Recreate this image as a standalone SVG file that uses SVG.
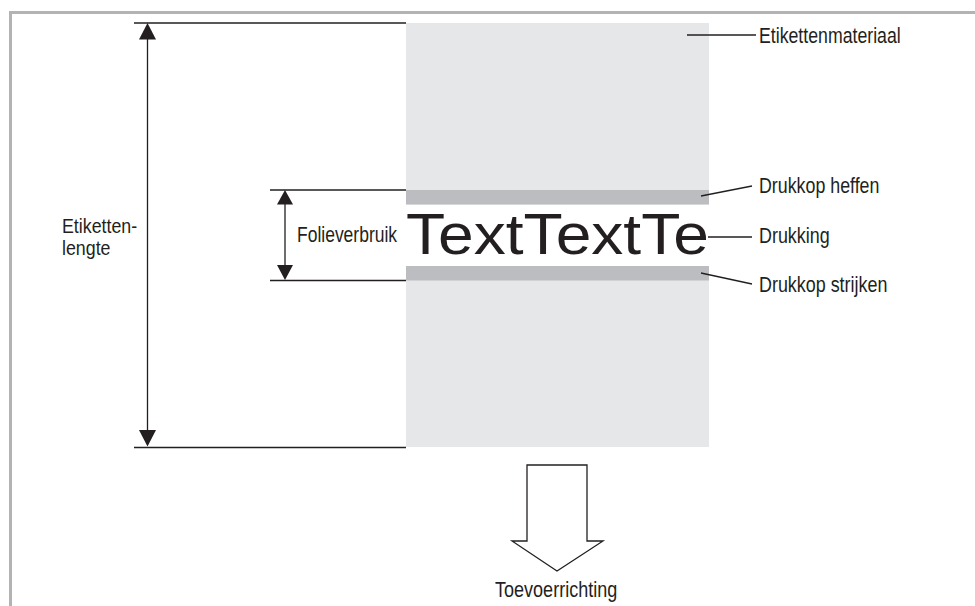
<svg xmlns="http://www.w3.org/2000/svg" width="975" height="606" viewBox="0 0 975 606">
  <style>
    .ln { stroke: #231f20; stroke-width: 1.3; fill: none; }
    .lbl { font-family: "Liberation Sans", Arial, sans-serif; font-size: 22px; fill: #231f20; }
    .lbl2 { font-family: "Liberation Sans", Arial, sans-serif; font-size: 20px; fill: #231f20; }
    .head { fill: #231f20; stroke: none; }
  </style>
  <rect x="0" y="0" width="975" height="606" fill="#ffffff"/>
  <!-- page frame -->
  <path d="M10.5 606 V12.5 H975" fill="none" stroke="#b3b3b3" stroke-width="3"/>

  <!-- label material strip -->
  <g id="material">
    <rect x="406" y="23" width="303" height="424" fill="#e6e7e9"/>
    <rect x="406" y="204.5" width="303" height="61.5" fill="#ffffff"/>
    <rect x="406" y="190" width="303" height="14.5" fill="#bcbdc0"/>
    <rect x="406" y="266" width="303" height="14.5" fill="#bcbdc0"/>
    <text transform="translate(406,254) scale(1.125,1)" font-family="'Liberation Sans', Arial, sans-serif" font-size="57" fill="#231f20">TextTextTe</text>
  </g>

  <!-- dimension: label length -->
  <g id="label-length">
    <line class="ln" x1="134" y1="23" x2="406" y2="23"/>
    <line class="ln" x1="134" y1="447.5" x2="406" y2="447.5"/>
    <line class="ln" x1="147.5" y1="38" x2="147.5" y2="431"/>
    <polygon class="head" points="147.5,23 139,39.5 156,39.5"/>
    <polygon class="head" points="147.5,446.5 139,430 156,430"/>
    <text class="lbl2" transform="translate(62,233) scale(0.89,1)">Etiketten-</text>
    <text class="lbl2" transform="translate(62,255) scale(0.89,1)">lengte</text>
  </g>

  <!-- dimension: foil usage -->
  <g id="foil-usage">
    <line class="ln" x1="270" y1="190" x2="406" y2="190"/>
    <line class="ln" x1="270" y1="280.5" x2="406" y2="280.5"/>
    <line class="ln" x1="285" y1="203" x2="285" y2="266"/>
    <polygon class="head" points="285,190 277,204.5 293,204.5"/>
    <polygon class="head" points="285,280 277,265 293,265"/>
    <text class="lbl" transform="translate(297,242) scale(0.795,1)">Folieverbruik</text>
  </g>

  <!-- callout labels -->
  <g id="callouts">
    <g id="lbl-material">
      <text class="lbl" transform="translate(759,43) scale(0.805,1)">Etikettenmateriaal</text>
    </g>
    <g id="lbl-lift">
      <text class="lbl" transform="translate(759,193) scale(0.81,1)">Drukkop heffen</text>
    </g>
    <g id="lbl-print">
      <text class="lbl" transform="translate(759,243) scale(0.815,1)">Drukking</text>
    </g>
    <g id="lbl-lower">
      <text class="lbl" transform="translate(759,292) scale(0.815,1)">Drukkop strijken</text>
    </g>
  </g>

  <!-- leader lines -->
  <g id="connectors">
    <line class="ln" x1="687" y1="35" x2="756" y2="35"/>
    <line class="ln" x1="701" y1="196" x2="752" y2="186"/>
    <line class="ln" x1="708" y1="237" x2="752" y2="237"/>
    <line class="ln" x1="701" y1="273" x2="752" y2="284"/>
  </g>

  <!-- feed direction arrow -->
  <g id="feed-direction">
    <polygon points="527,465 587,465 587,541 603,541 557,571 512,541 527,541" fill="#ffffff" stroke="#231f20" stroke-width="1.3" stroke-linejoin="miter"/>
    <text class="lbl" transform="translate(495,597) scale(0.82,1)">Toevoerrichting</text>
  </g>
</svg>
